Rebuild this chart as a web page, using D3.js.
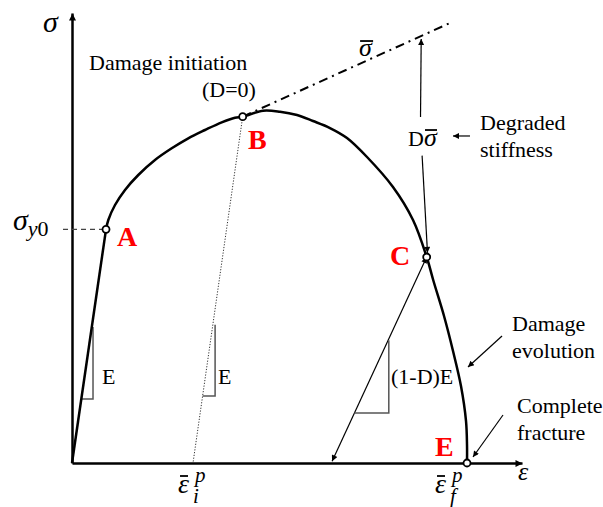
<!DOCTYPE html>
<html>
<head>
<meta charset="utf-8">
<script src="https://cdn.jsdelivr.net/npm/d3@7"></script>
<style>
  body { margin: 0; background: #fff; }
  text { font-family: "Liberation Serif", "Times New Roman", serif; fill: #000; }
  .math { font-style: italic; }
  .tag { font-weight: bold; fill: #ff0000; font-size: 28px; }
  .note { font-size: 22px; }
</style>
</head>
<body>
<div id="chart"></div>
<script>
// normalised strain / stress units (0-100 on both axes)
var elastic = [[0, 0], [7.56, 51.93]];
var hardening = [[7.56, 51.93], [8.07, 54.0], [9.56, 57.33], [11.78, 60.67], [14.73, 64.0],
  [18.44, 67.33], [22.16, 69.93], [25.84, 72.16], [29.56, 74.0], [33.27, 75.71], [36.22, 76.73],
  [37.93, 76.96], [42.44, 78.29], [46.22, 78.07], [50.0, 77.33], [53.56, 76.0], [57.33, 74.44],
  [61.11, 72.22], [65.56, 68.0], [71.33, 61.33], [75.78, 54.0], [78.82, 45.78],
  [80.33, 40.44], [82.67, 32.67], [84.67, 24.89], [86.44, 17.11], [87.56, 9.33], [87.78, 4.0],
  [87.78, 0]];
var pointNames = ["A", "B", "C", "E"];
var pointX = [7.56, 37.93, 78.82, 87.78];
var pointY = [51.93, 76.96, 45.78, 0];
var tagPos = [[10.0, 48.22], [39.11, 69.78], [70.67, 44.0], [80.67, 1.56]];

var undamaged = [[37.93, 76.96], [84.0, 97.78]];  // sigma bar, dash-dot
var unloadB = [[37.93, 76.96], [26.89, 0]];       // dotted
var unloadC = [[78.82, 45.78], [57.8, 0.4]];      // arrow
var dSigmaTop = [[77.45, 76.9], [77.6, 94.2]];
var dSigmaBottom = [[77.8, 68.3], [79.0, 46.7]];
var yieldDash = [[-2.0, 51.93], [6.8, 51.93]];

// slope triangles: [x of vertical, bottom, top, line]
var triangles = [[4.67, 14.2, 30.2, elastic], [31.8, 14.9, 30.7, unloadB], [70.4, 11.1, 27.3, unloadC]];
var triangleText = ["E", "E", "(1-D)E"];
var triangleTextPos = [[6.67, 17.56], [32.44, 17.56], [70.89, 17.56]];

var notes = [
  {lines: ["Damage initiation"], at: [3.78, 87.33]},
  {lines: ["(D=0)"], at: [28.89, 81.33]},
  {lines: ["Degraded", "stiffness"], at: [90.67, 74.0]},
  {lines: ["Damage", "evolution"], at: [97.78, 29.33]},
  {lines: ["Complete", "fracture"], at: [98.89, 11.11]}
];
var noteArrows = [[[88.44, 72.67], [84.67, 72.67]], [[95.56, 28.22], [88.0, 21.33]], [[95.78, 10.67], [89.11, 1.33]]];

var strainTicks = ["i", "f"];
var strainLabelX = [23.56, 80.67];

var width = 603, height = 507;
var svg = d3.select("#chart").append("svg")
  .attr("width", width)
  .attr("height", height);

var x = d3.scaleLinear().domain([0, 100]).range([72, 522]);
var y = d3.scaleLinear().domain([0, 100]).range([463, 13]);

var defs = svg.append("defs");
function marker(id, w, h) {
  defs.append("marker")
    .attr("id", id)
    .attr("markerUnits", "userSpaceOnUse")
    .attr("viewBox", "0 0 10 10")
    .attr("refX", 10).attr("refY", 5)
    .attr("markerWidth", w).attr("markerHeight", h)
    .attr("orient", "auto-start-reverse")
    .append("path")
    .attr("d", "M0,0L10,5L0,10z")
    .attr("fill", "#000");
}
marker("axisHead", 9, 7);
marker("head", 8, 6);

var line = d3.line().x(function(d) { return x(d[0]); }).y(function(d) { return y(d[1]); });

// axes
var xAxis = d3.axisBottom(x).tickValues([]).tickSizeOuter(0);
var yAxis = d3.axisLeft(y).tickValues([]).tickSizeOuter(0);
svg.append("g").attr("transform", "translate(0," + y(0) + ")").call(xAxis)
  .select(".domain").attr("stroke-width", 2.5).attr("marker-end", "url(#axisHead)");
svg.append("g").attr("transform", "translate(" + x(0) + ",0)").call(yAxis)
  .select(".domain").attr("stroke-width", 2.5).attr("marker-end", "url(#axisHead)");

// guide lines
svg.append("path").attr("d", line(yieldDash))
  .attr("stroke", "#444").attr("stroke-width", 1.3).attr("stroke-dasharray", "5,4").attr("fill", "none");
svg.append("path").attr("d", line(undamaged))
  .attr("stroke", "#000").attr("stroke-width", 2).attr("stroke-dasharray", "9,5,2,5").attr("fill", "none");
svg.append("path").attr("d", line(unloadB))
  .attr("stroke", "#333").attr("stroke-width", 1).attr("stroke-dasharray", "1.2,1.6").attr("fill", "none");
svg.append("path").attr("d", line(unloadC))
  .attr("stroke", "#000").attr("stroke-width", 1.2).attr("fill", "none")
  .attr("marker-start", "url(#head)").attr("marker-end", "url(#head)");
[dSigmaTop, dSigmaBottom].forEach(function(seg) {
  svg.append("path").attr("d", line(seg))
    .attr("stroke", "#000").attr("stroke-width", 1.2).attr("fill", "none")
    .attr("marker-end", "url(#head)");
});
noteArrows.forEach(function(seg) {
  svg.append("path").attr("d", line(seg))
    .attr("stroke", "#000").attr("stroke-width", 1.2).attr("fill", "none")
    .attr("marker-end", "url(#head)");
});

// slope triangles
triangles.forEach(function(t, i) {
  var l = t[3];
  var f = (t[1] - l[0][1]) / (l[1][1] - l[0][1]);
  var x0 = l[0][0] + f * (l[1][0] - l[0][0]);
  svg.append("path")
    .attr("d", line([[x0, t[1]], [t[0], t[1]], [t[0], t[2]]]))
    .attr("stroke", "#555").attr("stroke-width", 1.5).attr("fill", "none");
  svg.append("text").attr("class", "note")
    .attr("x", x(triangleTextPos[i][0])).attr("y", y(triangleTextPos[i][1]))
    .text(triangleText[i]);
});

// stress-strain curve
svg.append("path").attr("d", line(elastic))
  .attr("stroke", "#000").attr("stroke-width", 2.5).attr("fill", "none");
svg.append("path").attr("d", line.curve(d3.curveCatmullRom)(hardening))
  .attr("stroke", "#000").attr("stroke-width", 2.5).attr("fill", "none");
line.curve(d3.curveLinear);

svg.selectAll("circle.pt").data(pointNames).enter().append("circle")
  .attr("class", "pt")
  .attr("cx", function(d, i) { return x(pointX[i]); })
  .attr("cy", function(d, i) { return y(pointY[i]); })
  .attr("r", 3.5)
  .attr("fill", "#fff").attr("stroke", "#000").attr("stroke-width", 1.8);

svg.selectAll("text.tag").data(pointNames).enter().append("text")
  .attr("class", "tag")
  .attr("x", function(d, i) { return x(tagPos[i][0]); })
  .attr("y", function(d, i) { return y(tagPos[i][1]); })
  .text(function(d) { return d; });

// notes
notes.forEach(function(n) {
  var t = svg.append("text").attr("class", "note")
    .attr("x", x(n.at[0])).attr("y", y(n.at[1]));
  n.lines.forEach(function(s, i) {
    t.append("tspan").attr("x", x(n.at[0])).attr("dy", i ? 27 : 0).text(s);
  });
});

// greek labels
function bar(x1, x2, yy) {
  svg.append("line").attr("x1", x1).attr("x2", x2).attr("y1", yy).attr("y2", yy)
    .attr("stroke", "#000").attr("stroke-width", 1.8);
}
svg.append("text").attr("class", "math").attr("font-size", 30)
  .attr("x", x(0) - 29).attr("y", 32).text("σ");
svg.append("text").attr("class", "math").attr("font-size", 26)
  .attr("x", x(100) - 4).attr("y", y(0) + 17).text("ε");

var sy = svg.append("text").attr("class", "math").attr("font-size", 30)
  .attr("x", 13).attr("y", y(pointY[0]) + 1);
sy.text("σ");
sy.append("tspan").attr("font-size", 22).attr("dy", 6).text("y");
sy.append("tspan").attr("font-size", 22).attr("font-style", "normal").text("0");

// sigma bar on the dash-dot line
svg.append("text").attr("class", "math").attr("font-size", 26)
  .attr("x", x(63.8)).attr("y", y(90.44)).text("σ");
bar(x(63.8) + 1, x(63.8) + 14, y(90.44) - 15);

// D sigma bar
var ds = svg.append("text").attr("class", "note")
  .attr("x", x(74.67)).attr("y", y(70.44));
ds.text("D");
ds.append("tspan").attr("class", "math").attr("font-size", 26).text("σ");
bar(x(74.67) + 17, x(74.67) + 29, y(70.44) - 16);

// plastic strain labels
strainTicks.forEach(function(s, i) {
  var x0 = x(strainLabelX[i]);
  svg.append("text").attr("class", "math").attr("font-size", 28)
    .attr("x", x0).attr("y", 493).text("ε");
  bar(x0 + 2, x0 + 10, 476);
  svg.append("text").attr("class", "math").attr("font-size", 21)
    .attr("x", x0 + 17).attr("y", 482).text("p");
  svg.append("text").attr("class", "math").attr("font-size", 21)
    .attr("x", x0 + 15).attr("y", 503).text(s);
});
</script>
</body>
</html>
